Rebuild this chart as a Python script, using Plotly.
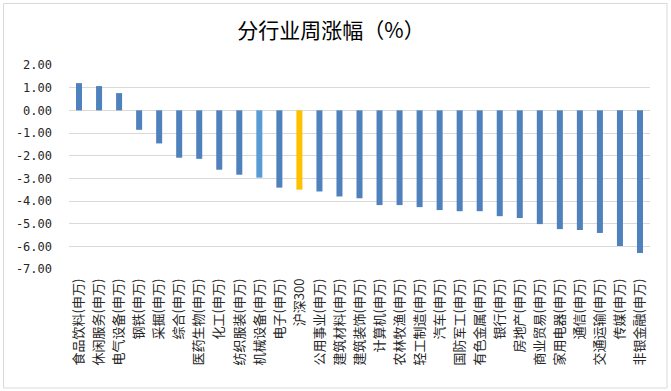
import plotly.graph_objects as go

categories = ["食品饮料(申万)", "休闲服务(申万)", "电气设备(申万)", "钢铁(申万)", "采掘(申万)",
              "综合(申万)", "医药生物(申万)", "化工(申万)", "纺织服装(申万)", "机械设备(申万)",
              "电子(申万)", "沪深300", "公用事业(申万)", "建筑材料(申万)", "建筑装饰(申万)",
              "计算机(申万)", "农林牧渔(申万)", "轻工制造(申万)", "汽车(申万)", "国防军工(申万)",
              "有色金属(申万)", "银行(申万)", "房地产(申万)", "商业贸易(申万)", "家用电器(申万)",
              "通信(申万)", "交通运输(申万)", "传媒(申万)", "非银金融(申万)"]
values = [1.20, 1.07, 0.76, -0.86, -1.46, -2.09, -2.14, -2.62, -2.84, -2.97,
          -3.41, -3.50, -3.58, -3.80, -3.88, -4.18, -4.18, -4.27, -4.40, -4.45,
          -4.45, -4.67, -4.75, -5.02, -5.24, -5.28, -5.41, -5.98, -6.29]
tick_vals = [2, 1, 0, -1, -2, -3, -4, -5, -6, -7]
tick_text = ["2.00", "1.00", "0.00", "-1.00", "-2.00", "-3.00", "-4.00", "-5.00", "-6.00", "-7.00"]

colors = []
for c in categories:
    if c == "沪深300":
        colors.append("#FFC000")
    elif c == "机械设备(申万)":
        colors.append("#5B9BD5")
    else:
        colors.append("#4F81BD")

fig = go.Figure(go.Bar(x=categories, y=values, marker=dict(color=colors, line=dict(width=0)),
                       hoverinfo="x+y"))

fig.update_layout(
    width=671, height=391,
    margin=dict(l=69, r=21, t=65, b=122, autoexpand=False),
    paper_bgcolor="white", plot_bgcolor="white",
    bargap=0.7,
    showlegend=False,
    title=dict(text="分行业周涨幅（%）", x=331 / 671, xanchor="center", y=1 - 31 / 391, yanchor="middle",
               font=dict(family="Noto Sans CJK SC", size=21, color="#000000")),
    xaxis=dict(tickangle=-90, tickfont=dict(family="Noto Sans CJK SC", size=13, color="#262626"),
               showgrid=False, showline=False, ticks="", zeroline=False,
               ticklabelstandoff=6, automargin=False),
    yaxis=dict(range=[-7, 2], tickvals=tick_vals, ticktext=tick_text,
               tickfont=dict(family="DejaVu Sans Mono", size=12, color="#262626"),
               showgrid=True, gridcolor="#D9D9D9", gridwidth=1,
               zeroline=True, zerolinecolor="#D9D9D9", zerolinewidth=1,
               showline=False, ticks="", ticklen=0, ticklabelstandoff=16, automargin=False),
    shapes=[dict(type="rect", xref="paper", yref="paper",
                 x0=(3.5 - 69) / 581, x1=(667 - 69) / 581,
                 y0=(269 - 388) / 204, y1=(269 - 3.5) / 204,
                 line=dict(color="#D9D9D9", width=1), layer="below")],
)

fig.write_html("out.html", config={"displayModeBar": False},
               post_script="document.body.style.margin='0px';document.body.style.padding='0px';")
